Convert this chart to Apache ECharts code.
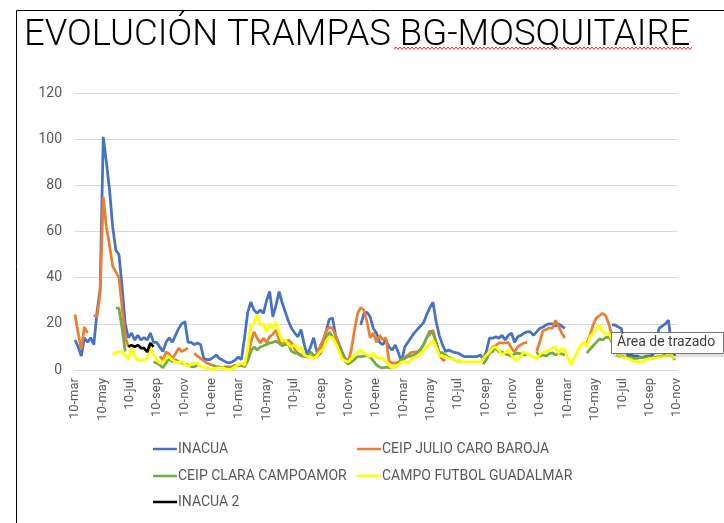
<!DOCTYPE html>
<html>
<head>
<meta charset="utf-8">
<script src="https://cdn.jsdelivr.net/npm/echarts@6/dist/echarts.min.js"></script>
<style>
html,body{margin:0;padding:0;background:#fff;}
#c{width:724px;height:523px;}
</style>
</head>
<body>
<div id="c"></div>
<script>
// Tick labels of the date axis (every 2 months, starting 10-mar)
var tickLabels = ['10-mar','10-may','10-jul','10-sep','10-nov','10-ene',
  '10-mar','10-may','10-jul','10-sep','10-nov','10-ene',
  '10-mar','10-may','10-jul','10-sep','10-nov','10-ene',
  '10-mar','10-may','10-jul','10-sep','10-nov'];
var daysPerTick = 61;   // ~2 months
var daysPerSample = 7;  // weekly samples

var seriesNames = ['INACUA','CEIP JULIO CARO BAROJA','CEIP CLARA CAMPOAMOR','CAMPO FUTBOL GUADALMAR','INACUA 2'];

var inacua = [13,10,6,14,12,14,11,25,35,101,90,78,62,52,50,36,20,14,16,13,
15,13,14,13,16,12,12,10,8,12,14,12,15,18,20,21,12,12,11,11.7,
11,5,4.5,4.5,5.5,6.5,5,4.3,3.5,3,3.5,4.3,5.6,4.5,14,25,29.5,26,24.5,26,
24.5,30,34,23,28,34,29,25,21,18,16,14.4,17.5,11,6.5,10,14,8,7,10,
17,22,22.5,15,11.5,8,5,4,null,null,null,19.5,24.5,25,23,18,16,12,11,13,
10,8.7,10.8,7.5,3.5,10,12,14,16,17.5,19,20.5,24,27,29.4,21,15,11,8,8.7,
8,7.5,7.3,6.5,5.8,5.8,5.8,5.8,5.8,6.5,5,8,13.8,13.8,14.4,13.8,15,13,15,16,
12,14.4,15,16,16.5,16.5,15,16.5,18,18.6,19.5,20,20,19,20,19,18,null,null,null,
null,null,null,null,null,null,null,null,null,null,null,19.5,19.5,18.6,18,10,6.5,6.5,
6,6,5.5,5.5,6,6,6.5,12,18,19,20,21.6,10,6];

var julioCaro = [24,16,9,18.6,16,null,23.8,23,33,75,62,54,45,42.5,40,27,14.4,10,null,null,
null,null,null,null,null,null,null,6,4.3,7.8,7,5,7,9.5,8,8.7,9.5,null,7.3,6,
5,4,3,2.5,2,1.4,1.4,1,1.5,1.4,1.5,2,2,2,3,5,12,16.5,13.8,11.7,
13.8,12,14.4,15.5,17.3,13,11,12,13,11.7,9,7,6,6,5.5,6,5.8,7,10,13,
17,18.6,18,15,10.8,7,4.5,3.5,8.7,17.3,24.5,27,26,20.8,14,16,12,15,13,14,
4,3,3,3.5,4.3,5.5,6.5,7.5,7.8,7.8,8.7,11,14,15.5,17.3,12,7,4.5,4,null,
null,null,null,null,null,null,null,null,null,null,null,5.8,8,10,10.5,11.7,11.7,11.7,12,9.5,
7.8,10,11,11.7,12,null,null,8,12,17,17.5,18.3,18,21.5,19,16,13.8,null,null,null,
null,null,null,11.7,15,19.5,22.5,23.5,24.5,23.5,20,15,12,null,null,null,null,null,null,null,
null,null,null,null,null,null,null,null,null,null,null,null];

var claraCampoamor = [null,null,null,null,null,null,null,null,null,null,null,null,null,26.8,26.8,18,8,null,null,null,
null,null,null,null,null,3.5,3,2.2,1,3,5,3.5,4.5,3.5,3,2.5,2.2,1.5,1.4,2,
null,null,null,null,2,1.5,0.9,0.9,1,0.9,1,1.4,2,2,1.4,4,8,10,8.7,10,
10.5,11,11.7,12,12.5,11.5,10.5,11,11,8,7.3,7.3,6.5,6,5.8,7.8,6.5,5.8,7,10,
13,16.5,14.4,12,10,6.5,4,2.5,3.5,4.5,5.8,5.8,6,6.5,5.5,4,2.2,1.2,0.9,1.2,
1,0.9,1.5,2.2,4.5,5,5.8,6,6.5,7.5,9,11,14,17,16,12,7.5,7.5,6.5,5.5,
5,4.3,3.8,3.5,null,null,null,null,null,null,2.5,4.5,7.3,8,9.5,7.8,7.8,7,6.5,6,
7,7.3,7,6.5,6.5,null,null,7.8,5.8,6.5,6,7,7.5,6.5,7.3,7,6.5,null,null,null,
null,null,null,7.3,9,10.5,12,13.5,13,14,14.4,12,9,6,6,5.5,5.5,5.5,5,5,
5.5,5.5,5.8,5.5,5,5.5,5.8,6,6.5,6.5,6.5,4.3];

var futbolGuadalmar = [null,null,null,null,null,null,null,null,null,null,null,null,6.5,7.5,7.8,7.8,6.5,4.5,9.5,6,
4.3,4.3,4.3,5,10,6.5,4.3,3,3.5,5,5.8,4.3,3.5,3.2,3.5,2.5,1.6,2.5,3,3,
1.4,1.2,0.9,0.5,0.2,0.9,0.9,0.9,0.5,0.2,0.5,1.4,2.2,3,2,9,19,20,24,19.5,
20,16.5,20,18,20.8,16,12.5,13,11,10,11,8.7,10,6.5,5.8,5.8,5,6,7.8,9,
12.5,14.4,14,11.7,8.5,5,4,3.5,5,6.5,7.5,8.7,7.5,6.5,5.8,7.3,5.5,5,5,3.5,
2,0.9,1.5,2.2,3.5,3.5,3,4.5,5.5,5.8,7,8.5,10,11,13,10,6.5,5.8,5.8,5,
4.8,4.3,4,3.5,3.5,3.5,3.5,3.5,3.5,3.5,5,6.5,7.8,9.5,10,8.7,6.5,7.5,8.7,6.5,
4.5,4.5,6,7.8,7,6.5,5.5,5,6.5,7.8,8,8.7,9.5,10,7,9.5,8.7,5,2.2,5,
8,10.5,12,10,14.4,16,17.5,19.5,16.5,15.5,16,13,9,6.5,5.8,5.5,5,4.5,3.5,3.5,
3.5,3.5,4.5,5,5,5,5.8,5.8,6,6.5,6.5,5];

var inacua2 = [null,null,null,null,null,null,null,null,null,null,null,null,null,null,null,null,null,10,10.8,10,
10.8,9.5,9.5,7.8,11.7,10];

var seriesValues = [inacua, julioCaro, claraCampoamor, futbolGuadalmar, inacua2];
var seriesColors = ['#4472C4','#ED7D31','#70AD47','#FFFF00','#000000'];

function toPairs(arr){
  return arr.map(function(v,i){ return [i*daysPerSample, v==null ? '-' : v]; });
}

var chart = echarts.init(document.getElementById('c'), null, {renderer:'canvas'});

var series = seriesNames.map(function(n,k){
  return {
    name:n, type:'line', data:toPairs(seriesValues[k]),
    symbol:'none', showSymbol:false, connectNulls:false,
    lineStyle:{color:seriesColors[k], width:2.75},
    itemStyle:{color:seriesColors[k]},
    z: 2+k, animation:false
  };
});

var legendPos = [[148,437],[352,437],[148,464],[352,464],[148,490]];
var legends = seriesNames.map(function(n,k){
  return {
    data:[n], left:legendPos[k][0], top:legendPos[k][1],
    icon:'rect', itemWidth:24, itemHeight:2.5, itemGap:0,
    textStyle:{color:'#595959', fontSize:14, fontFamily:'Roboto', padding:[0,0,0,-4]},
    selectedMode:false
  };
});

// red wavy spell-check underline (decoration)
var wave = [];
for (var x=394, s=0; x<=692; x+=2, s++){ wave.push([x, s%2 ? 47 : 49.5]); }

chart.setOption({
  backgroundColor:'#ffffff',
  animation:false,
  grid:{left:75, right:47, top:93, bottom:153, containLabel:false},
  xAxis:{
    type:'value', min:0, max:daysPerTick*(tickLabels.length-1), interval:daysPerTick,
    axisLine:{show:true, lineStyle:{color:'#d9d9d9', width:1}},
    axisTick:{show:false},
    splitLine:{show:false},
    axisLabel:{
      rotate:90, margin:8, color:'#595959', fontSize:13, fontFamily:'Roboto',
      showMinLabel:true, showMaxLabel:true,
      formatter:function(v){ var k=Math.round(v/daysPerTick); return tickLabels[k]||''; }
    }
  },
  yAxis:{
    type:'value', min:0, max:120, interval:20,
    axisLine:{show:false}, axisTick:{show:false},
    splitLine:{lineStyle:{color:'#d9d9d9', width:1}},
    axisLabel:{color:'#595959', fontSize:14, fontFamily:'Roboto', margin:13}
  },
  legend:legends,
  series:series,
  graphic:[
    {type:'polyline', shape:{points:[[16.5,523],[16.5,10.5],[724,10.5]]}, style:{stroke:'#000', lineWidth:1, fill:null}, z:10},
    {type:'text', left:24, top:17, style:{text:'EVOLUCIÓN TRAMPAS BG-MOSQUITAIRE', fontFamily:'Roboto', fontWeight:300, fontSize:36.5, fill:'#000'}, z:10},
    {type:'polyline', shape:{points:wave}, style:{stroke:'#e0282a', lineWidth:1, fill:null}, z:10},
    {type:'rect', shape:{x:613, y:334, width:111, height:23}, style:{fill:'rgba(0,0,0,0.12)'}, z:20},
    {type:'rect', shape:{x:611.5, y:332.5, width:112, height:21}, style:{fill:'#fff', stroke:'#767676', lineWidth:1}, z:21},
    {type:'text', left:617, top:335, style:{text:'Área de trazado', fontFamily:'Roboto', fontSize:14, fill:'#404040'}, z:22}
  ]
});
</script>
</body>
</html>
